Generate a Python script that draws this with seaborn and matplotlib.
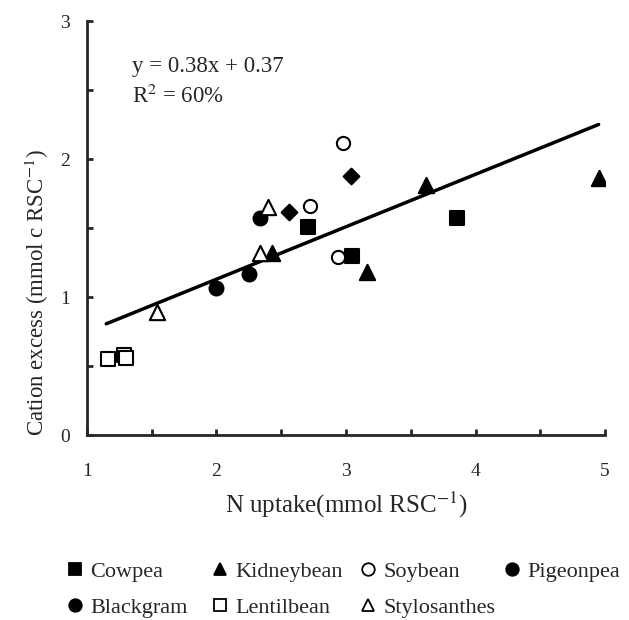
import numpy as np
import pandas as pd
import matplotlib
matplotlib.use("Agg")
import matplotlib.pyplot as plt
from matplotlib.lines import Line2D
import seaborn as sns

# values
cowpea_x = [2.71, 3.05, 3.86]
cowpea_y = [1.51, 1.30, 1.57]
kidneybean_x = [2.43, 3.16, 3.62, 4.95]
kidneybean_y = [1.32, 1.18, 1.81, 1.86]
soybean_x = [2.98, 2.72, 2.94]
soybean_y = [2.12, 1.66, 1.29]
pigeonpea_x = [2.56, 3.04]
pigeonpea_y = [1.62, 1.88]
blackgram_x = [2.00, 2.25, 2.34]
blackgram_y = [1.07, 1.17, 1.57]
lentilbean_x = [1.16, 1.29, 1.30]
lentilbean_y = [0.55, 0.58, 0.56]
stylosanthes_x = [1.54, 2.40, 2.34]
stylosanthes_y = [0.89, 1.65, 1.32]

slope, intercept = 0.38, 0.37
fit_x = [1.15, 4.95]

groups = [
    ("Cowpea", cowpea_x, cowpea_y, "s", "black", 9.5),
    ("Kidneybean", kidneybean_x, kidneybean_y, "^", "black", 11),
    ("Soybean", soybean_x, soybean_y, "o", "white", 9.5),
    ("Pigeonpea", pigeonpea_x, pigeonpea_y, "D", "black", 8),
    ("Blackgram", blackgram_x, blackgram_y, "o", "black", 10),
    ("Lentilbean", lentilbean_x, lentilbean_y, "s", "white", 9.5),
    ("Stylosanthes", stylosanthes_x, stylosanthes_y, "^", "white", 11),
]

sns.set_style("ticks")
plt.rcParams["font.family"] = ["Liberation Serif", "DejaVu Serif"]
plt.rcParams["mathtext.fontset"] = "stix"

fig = plt.figure(figsize=(6.29, 6.20), dpi=100)
ax = fig.add_axes([0.138, 0.298, 0.824, 0.668])

for name, xs, ys, mk, fc, ms in groups:
    df = pd.DataFrame({"x": xs, "y": ys})
    sns.scatterplot(data=df, x="x", y="y", marker=mk, s=ms ** 2, color=fc,
                    edgecolor="black", linewidth=1.5, ax=ax, zorder=3)

line_df = pd.DataFrame({"x": fit_x, "y": [slope * v + intercept for v in fit_x]})
sns.lineplot(data=line_df, x="x", y="y", color="black", linewidth=2.5, ax=ax, zorder=2)

ax.set_xlim(1, 5)
ax.set_ylim(0, 3)
ax.set_xticks([1, 2, 3, 4, 5])
ax.set_yticks([0, 1, 2, 3])
ax.set_xticks(np.arange(1, 5.01, 0.5), minor=True)
ax.set_yticks(np.arange(0, 3.01, 0.5), minor=True)
ax.tick_params(which="both", direction="in", length=4, width=2, labelsize=14)
ax.tick_params(axis="x", which="both", pad=20)
ax.tick_params(axis="y", which="both", pad=12)
sns.despine(ax=ax)
for sp in ["left", "bottom"]:
    ax.spines[sp].set_linewidth(2)

ax.set_xlabel("N uptake(mmol RSC$^{-1}$)", fontsize=18, labelpad=7)
ax.set_ylabel("Cation excess (mmol c RSC$^{-1}$)", fontsize=16.5)
ax.yaxis.set_label_coords(-0.07, 0.345)

ax.text(1.35, 2.63, "y = 0.38x + 0.37", fontsize=16.5, va="baseline")
ax.text(1.35, 2.41, "R$^2$ = 60%", fontsize=16.5, va="baseline")

# legend key as drawn in the reference, one column at a time
key = {
    "Cowpea": ("s", "black"),
    "Kidneybean": ("^", "black"),
    "Soybean": ("o", "white"),
    "Pigeonpea": ("o", "black"),
    "Blackgram": ("o", "black"),
    "Lentilbean": ("s", "white"),
    "Stylosanthes": ("^", "white"),
}
columns = [
    (["Cowpea", "Blackgram"], 67),
    (["Kidneybean", "Lentilbean"], 212),
    (["Soybean", "Stylosanthes"], 360),
    (["Pigeonpea"], 504),
]
for names, x0 in columns:
    handles = [Line2D([], [], linestyle="none", marker=key[n][0], markerfacecolor=key[n][1],
                      markeredgecolor="black", markersize=9, markeredgewidth=1.3) for n in names]
    fig.legend(handles, names, loc="upper left", bbox_to_anchor=(x0 / 629, 0.094),
               frameon=False, fontsize=16, handletextpad=0.3, handlelength=0.75,
               labelspacing=0.68, borderpad=0, borderaxespad=0)

fig.savefig("out.png", dpi=100)
